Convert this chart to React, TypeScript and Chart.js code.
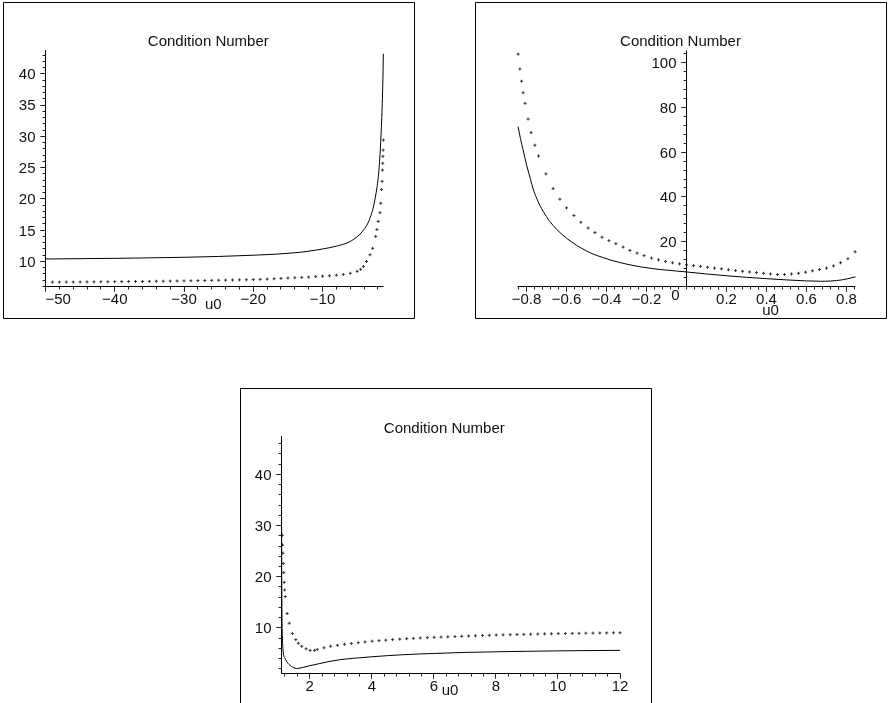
import React, { useEffect, useRef } from 'react';
import { Chart, registerables } from 'chart.js';

Chart.register(...registerables);

const TITLE = 'Condition Number';
const AXIS_LABEL = 'u0';

// ---------- Panel 1 (u0 < -1) ----------
const p1LineX = [-50, -45, -40, -35, -30, -25, -20, -17, -15, -13, -11, -10, -9, -8, -7, -6, -5.5, -5, -4.6, -4.2, -3.9, -3.6, -3.3, -3.0, -2.7, -2.44, -2.2, -2.0, -1.85, -1.7, -1.6, -1.5, -1.4, -1.32, -1.26, -1.22];
const p1LineY = [10.4, 10.45, 10.5, 10.58, 10.67, 10.8, 11.0, 11.15, 11.3, 11.5, 11.8, 12.0, 12.2, 12.45, 12.75, 13.2, 13.55, 13.95, 14.35, 14.85, 15.3, 15.8, 16.5, 17.4, 18.5, 19.9, 21.4, 23.0, 24.8, 27.2, 29.2, 31.6, 34.6, 37.6, 40.6, 43.2];
const p1DotX = [-49, -48, -47, -46, -45, -44, -43, -42, -41, -40, -39, -38, -37, -36, -35, -34, -33, -32, -31, -30, -29, -28, -27, -26, -25, -24, -23, -22, -21, -20, -19, -18, -17, -16, -15, -14, -13, -12, -11, -10, -9, -8, -7, -6, -5, -4.5, -4.1, -3.65, -3.15, -2.77, -2.33, -2.15, -1.96, -1.71, -1.6, -1.48, -1.4, -1.35, -1.31, -1.28, -1.25, -1.21];
const p1DotY = [6.70, 6.70, 6.71, 6.71, 6.72, 6.73, 6.74, 6.75, 6.76, 6.77, 6.78, 6.79, 6.80, 6.81, 6.82, 6.84, 6.85, 6.87, 6.88, 6.90, 6.92, 6.94, 6.96, 6.98, 7.00, 7.02, 7.04, 7.06, 7.08, 7.10, 7.14, 7.18, 7.23, 7.29, 7.35, 7.40, 7.45, 7.50, 7.58, 7.65, 7.72, 7.80, 7.92, 8.12, 8.42, 8.75, 9.2, 10.0, 11.07, 12.1, 14.0, 15.1, 16.4, 17.8, 19.3, 21.5, 22.8, 24.6, 25.7, 26.8, 27.8, 29.4];
const p1XTicks = [-50, -40, -30, -20, -10];
const p1XTickLabels = ['\u221250', '\u221240', '\u221230', '\u221220', '\u221210'];
const p1YTicks = [10, 15, 20, 25, 30, 35, 40];
const p1YTickLabels = ['10', '15', '20', '25', '30', '35', '40'];

// ---------- Panel 2 (-1 < u0 < 1) ----------
const p2LineX = [-0.842, -0.83, -0.817, -0.8, -0.78, -0.767, -0.75, -0.733, -0.7, -0.683, -0.65, -0.633, -0.6, -0.55, -0.5, -0.467, -0.42, -0.383, -0.3, -0.217, -0.133, -0.05, 0, 0.1, 0.2, 0.3, 0.4, 0.5, 0.6, 0.67, 0.72, 0.78, 0.845];
const p2LineY = [71.4, 66.0, 61.0, 54.5, 47.8, 43.6, 39.6, 36.2, 31.2, 29.0, 25.6, 24.1, 21.6, 18.4, 15.9, 14.5, 13.0, 11.9, 10.0, 8.6, 7.6, 6.9, 6.5, 5.6, 4.8, 4.1, 3.5, 2.95, 2.5, 2.35, 2.45, 3.0, 4.3];
const p2DotX = [-0.842, -0.833, -0.825, -0.817, -0.807, -0.792, -0.777, -0.758, -0.74, -0.703, -0.667, -0.633, -0.6, -0.563, -0.528, -0.492, -0.458, -0.422, -0.388, -0.353, -0.317, -0.283, -0.247, -0.212, -0.175, -0.14, -0.105, -0.07, -0.035, 0, 0.035, 0.07, 0.105, 0.14, 0.175, 0.21, 0.245, 0.28, 0.315, 0.35, 0.385, 0.42, 0.455, 0.49, 0.525, 0.56, 0.595, 0.63, 0.665, 0.7, 0.735, 0.77, 0.807, 0.843];
const p2DotY = [103.8, 97.1, 91.7, 86.5, 81.8, 74.8, 68.7, 63.1, 58.3, 50.3, 43.7, 39.0, 35.1, 31.7, 28.7, 26.1, 24.1, 22.0, 20.5, 19.1, 17.6, 16.1, 14.9, 13.8, 12.7, 11.9, 11.2, 10.6, 10.1, 9.7, 9.3, 9.0, 8.6, 8.2, 7.9, 7.5, 7.1, 6.8, 6.5, 6.2, 5.9, 5.6, 5.35, 5.35, 5.6, 5.9, 6.4, 7.0, 7.6, 8.2, 9.2, 10.6, 12.4, 15.5];
const p2XTicks = [-0.8, -0.6, -0.4, -0.2, 0.2, 0.4, 0.6, 0.8];
const p2XTickLabels = ['\u22120.8', '\u22120.6', '\u22120.4', '\u22120.2', '0.2', '0.4', '0.6', '0.8'];
const p2YTicks = [20, 40, 60, 80, 100];
const p2YTickLabels = ['20', '40', '60', '80', '100'];

// ---------- Panel 3 (u0 > 1) ----------
const p3LineX = [1.088, 1.09, 1.093, 1.097, 1.102, 1.108, 1.115, 1.125, 1.14, 1.16, 1.2, 1.25, 1.3, 1.36, 1.41, 1.48, 1.57, 1.65, 1.8, 2.0, 2.3, 2.65, 3.0, 3.5, 4.0, 5.0, 6.0, 7.0, 8.0, 9.0, 10, 11, 12];
const p3LineY = [47, 34, 25, 18, 13.5, 10.5, 8.5, 6.9, 5.4, 4.6, 4.1, 3.5, 3.05, 2.7, 2.45, 2.2, 2.05, 2.1, 2.3, 2.6, 3.0, 3.45, 3.8, 4.1, 4.35, 4.75, 5.0, 5.2, 5.32, 5.42, 5.5, 5.56, 5.6];
const p3DotX = [1.114, 1.122, 1.134, 1.146, 1.16, 1.175, 1.19, 1.21, 1.27, 1.34, 1.44, 1.55, 1.63, 1.74, 1.88, 2.01, 2.15, 2.24, 2.46, 2.67, 2.89, 3.12, 3.34, 3.56, 3.78, 4.01, 4.23, 4.45, 4.67, 4.9, 5.12, 5.34, 5.56, 5.79, 6.01, 6.23, 6.45, 6.68, 6.9, 7.12, 7.34, 7.57, 7.79, 8.01, 8.23, 8.46, 8.68, 8.9, 9.12, 9.35, 9.57, 9.79, 10.01, 10.24, 10.46, 10.68, 10.9, 11.13, 11.35, 11.57, 11.79, 12.0];
const p3DotY = [28.1, 26.2, 24.6, 22.6, 20.8, 18.9, 17.4, 16.1, 12.8, 10.9, 8.9, 7.7, 7.0, 6.4, 5.9, 5.6, 5.6, 5.8, 6.1, 6.4, 6.6, 6.8, 6.95, 7.1, 7.25, 7.4, 7.5, 7.6, 7.7, 7.8, 7.88, 7.95, 8.02, 8.08, 8.15, 8.2, 8.25, 8.3, 8.35, 8.4, 8.45, 8.5, 8.55, 8.6, 8.63, 8.66, 8.7, 8.73, 8.76, 8.79, 8.82, 8.85, 8.88, 8.9, 8.92, 8.94, 8.96, 8.98, 9.0, 9.02, 9.04, 9.05];
const p3XTicks = [2, 4, 6, 8, 10, 12];
const p3XTickLabels = ['2', '4', '6', '8', '10', '12'];
const p3YTicks = [10, 20, 30, 40];
const p3YTickLabels = ['10', '20', '30', '40'];

const FONT = '15px "Liberation Sans", Arial, Helvetica, sans-serif';
const W = 889;
const H = 703;

type Panel = {
  lineX: number[]; lineY: number[]; dotX: number[]; dotY: number[];
  xTicks: number[]; xLabels: string[]; yTicks: number[]; yLabels: string[];
  xMin: number; xMax: number; yMin: number; yMax: number;
  xMinor: number; yMinor: number;
  yAxisAtX: number; xAxisAtY: number;
  area: { left: number; top: number; right: number; bottom: number };
  frame: { left: number; top: number; right: number; bottom: number | null };
  title: [number, number];
  axisLabel: [number, number];
  firstXLabelLeft?: boolean;
  extra?: { text: string; x: number; y: number; align: CanvasTextAlign }[];
};

const PANELS: Panel[] = [
  {
    lineX: p1LineX, lineY: p1LineY, dotX: p1DotX, dotY: p1DotY,
    xTicks: p1XTicks, xLabels: p1XTickLabels, yTicks: p1YTicks, yLabels: p1YTickLabels,
    xMin: -50, xMax: -1.2, yMin: 6, yMax: 43.8, xMinor: 2, yMinor: 1,
    yAxisAtX: -50, xAxisAtY: 6,
    area: { left: 45.5, top: 50, right: 383.5, bottom: 286.5 },
    frame: { left: 3.5, top: 2.5, right: 414.5, bottom: 318.5 },
    title: [208.3, 45.7], axisLabel: [213.3, 308.5], firstXLabelLeft: true,
  },
  {
    lineX: p2LineX, lineY: p2LineY, dotX: p2DotX, dotY: p2DotY,
    xTicks: p2XTicks, xLabels: p2XTickLabels, yTicks: p2YTicks, yLabels: p2YTickLabels,
    xMin: -0.845, xMax: 0.845, yMin: 0, yMax: 105.4, xMinor: 0.04, yMinor: 4,
    yAxisAtX: 0, xAxisAtY: 0,
    area: { left: 517.5, top: 50.5, right: 855.5, bottom: 286.5 },
    frame: { left: 475.5, top: 2.5, right: 886.5, bottom: 318.5 },
    title: [680.5, 45.7], axisLabel: [770.5, 315],
    extra: [{ text: '0', x: 679.5, y: 299.5, align: 'right' }],
  },
  {
    lineX: p3LineX, lineY: p3LineY, dotX: p3DotX, dotY: p3DotY,
    xTicks: p3XTicks, xLabels: p3XTickLabels, yTicks: p3YTicks, yLabels: p3YTickLabels,
    xMin: 1.088, xMax: 12, yMin: 1.08, yMax: 47.5, xMinor: 0.4, yMinor: 2,
    yAxisAtX: 1.088, xAxisAtY: 1.08,
    area: { left: 281.5, top: 436, right: 620, bottom: 673.5 },
    frame: { left: 240.5, top: 388.5, right: 651.5, bottom: null },
    title: [444.3, 432.7], axisLabel: [450, 694.5],
  },
];

const snap = (v: number) => Math.floor(v) + 0.5;

function minorValues(min: number, max: number, step: number): number[] {
  const out: number[] = [];
  const k0 = Math.ceil(min / step - 1e-6);
  const k1 = Math.floor(max / step + 1e-6);
  for (let k = k0; k <= k1; k++) out.push(+(k * step).toFixed(6));
  return out;
}

function makeAxesPlugin(p: Panel) {
  return {
    id: 'mapleAxes',
    afterDatasetsDraw(chart: any) {
      const ctx: CanvasRenderingContext2D = chart.ctx;
      const xs = chart.scales.x;
      const ys = chart.scales.y;
      ctx.save();
      ctx.strokeStyle = '#000';
      ctx.fillStyle = '#000';
      ctx.lineWidth = 1;

      // frame
      const f = p.frame;
      ctx.beginPath();
      if (f.bottom === null) {
        ctx.moveTo(f.left, H + 2);
        ctx.lineTo(f.left, f.top);
        ctx.lineTo(f.right, f.top);
        ctx.lineTo(f.right, H + 2);
      } else {
        ctx.rect(f.left, f.top, f.right - f.left, f.bottom - f.top);
      }
      ctx.stroke();

      const ax = snap(xs.getPixelForValue(p.yAxisAtX));
      const ay = snap(ys.getPixelForValue(p.xAxisAtY));
      const xl = xs.getPixelForValue(p.xMin);
      const xr = xs.getPixelForValue(p.xMax);
      const yt = ys.getPixelForValue(p.yMax);
      const yb = ys.getPixelForValue(p.yMin);

      // axis lines
      ctx.beginPath();
      ctx.moveTo(xl, ay);
      ctx.lineTo(xr, ay);
      ctx.moveTo(ax, yt);
      ctx.lineTo(ax, Math.max(ay, yb));
      ctx.stroke();

      // ticks
      ctx.strokeStyle = '#222';
      ctx.beginPath();
      const majorsX = new Set(p.xTicks.map((v) => v.toFixed(4)));
      minorValues(p.xMin, p.xMax, p.xMinor).forEach((v) => {
        const px = snap(xs.getPixelForValue(v));
        const len = majorsX.has(v.toFixed(4)) ? 5 : 3;
        ctx.moveTo(px, ay);
        ctx.lineTo(px, ay + len);
      });
      p.xTicks.forEach((v) => {
        const px = snap(xs.getPixelForValue(v));
        ctx.moveTo(px, ay);
        ctx.lineTo(px, ay + 5);
      });
      const majorsY = new Set(p.yTicks.map((v) => v.toFixed(4)));
      minorValues(p.yMin, p.yMax, p.yMinor).forEach((v) => {
        const py = snap(ys.getPixelForValue(v));
        const len = majorsY.has(v.toFixed(4)) ? 5 : 3;
        ctx.moveTo(ax, py);
        ctx.lineTo(ax - len, py);
      });
      p.yTicks.forEach((v) => {
        const py = snap(ys.getPixelForValue(v));
        ctx.moveTo(ax, py);
        ctx.lineTo(ax - 5, py);
      });
      ctx.stroke();

      // labels
      ctx.fillStyle = '#111';
      ctx.font = FONT;
      ctx.textBaseline = 'alphabetic';
      p.xTicks.forEach((v, i) => {
        const px = xs.getPixelForValue(v);
        if (i === 0 && p.firstXLabelLeft) {
          ctx.textAlign = 'left';
          ctx.fillText(p.xLabels[i], xl, ay + 17);
        } else {
          ctx.textAlign = 'center';
          ctx.fillText(p.xLabels[i], px, ay + 17);
        }
      });
      ctx.textAlign = 'right';
      p.yTicks.forEach((v, i) => {
        const py = ys.getPixelForValue(v);
        ctx.fillText(p.yLabels[i], ax - 10, py + 5.4);
      });
      (p.extra || []).forEach((e) => {
        ctx.textAlign = e.align;
        ctx.fillText(e.text, e.x, e.y);
      });
      ctx.textAlign = 'center';
      ctx.fillText(TITLE, p.title[0], p.title[1]);
      ctx.fillText(AXIS_LABEL, p.axisLabel[0], p.axisLabel[1]);
      ctx.restore();
    },
  };
}

function PanelChart({ p }: { p: Panel }) {
  const ref = useRef<HTMLCanvasElement>(null);
  useEffect(() => {
    const canvas = ref.current;
    if (!canvas) return;
    const line = p.lineX.map((x, i) => ({ x, y: p.lineY[i] }));
    const dots = p.dotX.map((x, i) => ({ x, y: p.dotY[i] }));
    const chart = new Chart(canvas, {
      type: 'scatter',
      data: {
        datasets: [
          {
            data: line,
            showLine: true,
            borderColor: '#000',
            borderWidth: 1,
            pointRadius: 0,
            pointHoverRadius: 0,
            cubicInterpolationMode: 'monotone',
            clip: false,
          } as any,
          {
            data: dots,
            showLine: false,
            pointStyle: 'cross',
            pointRadius: 1.5,
            pointHoverRadius: 1.5,
            borderColor: '#333',
            backgroundColor: '#333',
            borderWidth: 1,
            clip: false,
          } as any,
        ],
      },
      options: {
        animation: false,
        responsive: false,
        maintainAspectRatio: false,
        events: [],
        layout: {
          padding: {
            left: p.area.left,
            top: p.area.top,
            right: W - p.area.right,
            bottom: H - p.area.bottom,
          },
        },
        plugins: {
          legend: { display: false },
          tooltip: { enabled: false },
          title: { display: false },
        },
        scales: {
          x: { type: 'linear', min: p.xMin, max: p.xMax, display: false },
          y: { type: 'linear', min: p.yMin, max: p.yMax, display: false },
        },
      },
      plugins: [makeAxesPlugin(p)],
    });
    return () => chart.destroy();
  }, [p]);
  return (
    <canvas
      ref={ref}
      width={W}
      height={H}
      style={{ position: 'absolute', left: 0, top: 0, width: W, height: H }}
    />
  );
}

export default function App() {
  return (
    <div
      style={{
        position: 'absolute',
        left: 0,
        top: 0,
        width: W,
        height: H,
        overflow: 'hidden',
        background: '#fff',
      }}
    >
      {PANELS.map((p, i) => (
        <PanelChart key={i} p={p} />
      ))}
    </div>
  );
}
